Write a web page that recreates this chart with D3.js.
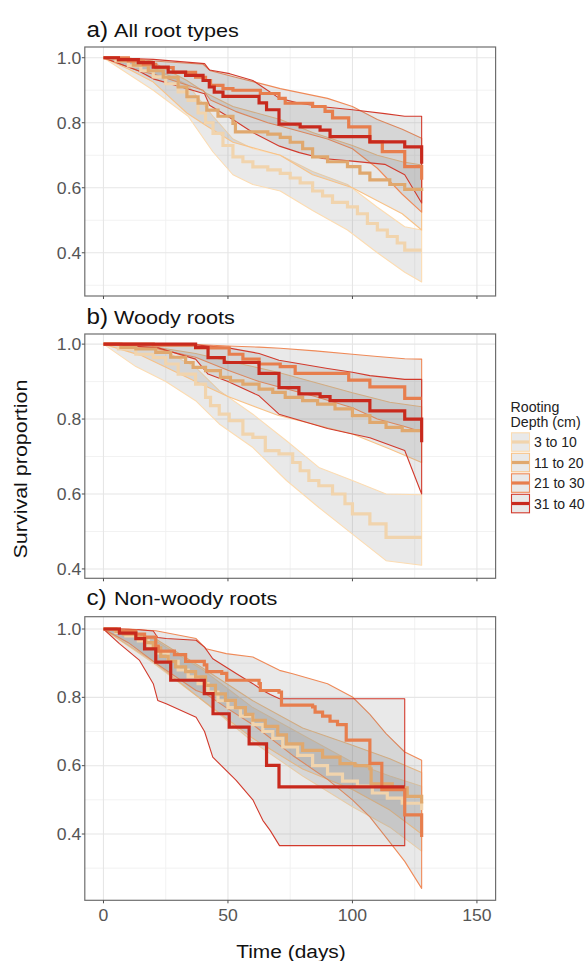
<!DOCTYPE html>
<html>
<head>
<meta charset="utf-8">
<script src="https://cdn.jsdelivr.net/npm/d3@7"></script>
<style>
  body { margin: 0; background: #fff; }
  svg { display: block; font-family: "Liberation Sans", Arial, sans-serif; }
</style>
</head>
<body>
<svg id="chart" width="587" height="961"></svg>
<script>
// ---- data ----------------------------------------------------------------
const groups = ["3 to 10", "11 to 20", "21 to 30", "31 to 40"];
const panelTags = ["a)", "b)", "c)"];
const panelTitles = ["All root types", "Woody roots", "Non-woody roots"];
const xTicks = [0, 50, 100, 150];
const yTicks = [0.4, 0.6, 0.8, 1.0];

// survival steps: [day, proportion]; ribbons: [day, lower, upper]
const a_s1 = [[0,1],[5,0.99],[10,0.975],[15,0.96],[20,0.941],[25,0.92],[30,0.895],[34,0.869],[38,0.83],[41,0.8],[44,0.767],[48,0.73],[52,0.695],[56,0.68],[60,0.664],[66,0.655],[71,0.644],[75,0.63],[79,0.615],[84,0.59],[88,0.575],[92,0.555],[98,0.541],[102,0.52],[106,0.49],[110,0.47],[114,0.45],[118,0.43],[121,0.408],[127.8,0.408]];
const a_c1 = [[0,1,1],[10,0.95,0.995],[20,0.9,0.97],[34,0.82,0.915],[44,0.71,0.82],[52,0.64,0.75],[60,0.61,0.72],[71,0.59,0.7],[84,0.53,0.65],[98,0.47,0.61],[110,0.4,0.54],[121,0.34,0.48],[127.8,0.31,0.47]];
const a_s2 = [[0,1],[6,0.99],[12,0.977],[18,0.96],[24,0.94],[30,0.91],[33.5,0.88],[38,0.86],[41.5,0.839],[46,0.82],[52,0.798],[53,0.772],[66,0.765],[71,0.755],[75,0.74],[80,0.72],[84,0.695],[90,0.68],[98,0.665],[103,0.645],[107,0.624],[115,0.61],[121,0.595],[127.8,0.59]];
const a_c2 = [[0,1,1],[10,0.965,1],[20,0.925,0.985],[33.5,0.83,0.93],[41.5,0.79,0.89],[52,0.74,0.85],[71,0.7,0.81],[84,0.64,0.77],[100,0.6,0.73],[110,0.56,0.7],[120,0.52,0.68],[127.8,0.47,0.67]];
const a_s3 = [[0,1],[10,0.99],[16,0.98],[21,0.97],[28,0.955],[37,0.94],[41,0.93],[43,0.915],[48,0.905],[52,0.9],[63,0.89],[70.5,0.875],[73,0.86],[84,0.85],[89,0.835],[92,0.815],[98.5,0.787],[107,0.741],[112,0.711],[121,0.665],[127.8,0.625]];
const a_c3 = [[0,1,1],[14,0.96,0.995],[20,0.95,0.99],[40,0.9,0.98],[43,0.87,0.96],[53,0.835,0.94],[66,0.8,0.915],[71,0.79,0.905],[90,0.75,0.875],[100,0.72,0.85],[110,0.66,0.81],[120,0.58,0.78],[127.8,0.525,0.752]];
const a_s4 = [[0,1],[6,0.994],[14,0.985],[20,0.971],[26,0.956],[33,0.946],[40,0.93],[42.5,0.91],[44.5,0.894],[48,0.881],[62.5,0.861],[65.5,0.84],[70.5,0.796],[79,0.787],[87,0.777],[91,0.757],[107,0.741],[121,0.726],[127.8,0.674]];
const a_c4 = [[0,1,1],[14,0.96,0.997],[20,0.935,0.995],[40.6,0.889,0.982],[42.6,0.854,0.962],[50.7,0.816,0.951],[60,0.77,0.93],[70.7,0.728,0.875],[78.7,0.708,0.86],[88,0.69,0.849],[100,0.682,0.84],[113,0.672,0.828],[121,0.64,0.82],[127.8,0.553,0.82]];

const b_s1 = [[0,1],[6,0.987],[13,0.973],[20,0.964],[25,0.947],[30,0.92],[37,0.893],[41,0.858],[43,0.836],[46.5,0.813],[50.5,0.796],[56,0.76],[60,0.751],[65,0.716],[70.5,0.707],[76,0.684],[79,0.662],[82.5,0.636],[86.5,0.622],[92,0.6],[97,0.574],[100,0.547],[107,0.52],[113.5,0.484],[127.8,0.484]];
const b_c1 = [[0,1,1],[13,0.94,0.995],[25,0.9,0.98],[37,0.849,0.938],[46.5,0.787,0.876],[60,0.724,0.813],[73.5,0.636,0.742],[86.5,0.564,0.671],[100,0.493,0.636],[113.5,0.422,0.6],[127.8,0.41,0.598]];
const b_s2 = [[0,1],[7,0.991],[13,0.987],[21,0.978],[27,0.965],[33,0.951],[36,0.938],[41,0.929],[47,0.911],[51,0.902],[56,0.893],[62.5,0.88],[68,0.871],[73,0.858],[80,0.849],[86,0.84],[93,0.827],[100,0.809],[107,0.791],[113.5,0.778],[120,0.769],[127.8,0.769]];
const b_c2 = [[0,1,1],[15,0.97,0.998],[37,0.9,0.975],[50,0.86,0.955],[70,0.81,0.925],[100,0.76,0.87],[115,0.72,0.845],[127.8,0.684,0.833]];
const b_s3 = [[0,1],[20,0.997],[37,0.99],[50.5,0.973],[56,0.96],[62.5,0.947],[71,0.94],[77,0.922],[98.5,0.904],[107,0.886],[121,0.855],[127.8,0.855]];
const b_c3 = [[0,1,1],[20,0.99,1],[37,0.965,0.999],[50,0.93,0.995],[62.5,0.9,0.992],[71,0.885,0.989],[85,0.86,0.982],[100,0.83,0.973],[110,0.8,0.967],[121,0.78,0.961],[127.8,0.766,0.96]];
const b_s4 = [[0,1],[37,0.991],[42,0.964],[48.5,0.951],[62.5,0.922],[70.5,0.884],[78.5,0.867],[87,0.86],[91,0.849],[107,0.822],[121,0.8],[127.8,0.738]];
const b_c4 = [[0,1,1],[22,0.99,1],[37,0.96,0.998],[42,0.92,0.995],[50,0.9,0.99],[62.5,0.862,0.975],[70.5,0.813,0.957],[90,0.775,0.935],[100,0.76,0.925],[107,0.75,0.916],[121,0.716,0.906],[127.8,0.6,0.906]];

const c_s1 = [[0,1],[5,0.99],[9,0.98],[14,0.965],[18,0.95],[22,0.93],[26,0.905],[30,0.88],[34,0.86],[38,0.84],[42,0.815],[46,0.79],[50,0.77],[55,0.745],[60,0.72],[64,0.7],[68,0.68],[72,0.655],[78,0.63],[84,0.6],[90,0.575],[96,0.555],[102,0.54],[108,0.52],[114,0.505],[120,0.49],[127.8,0.47]];
const c_c1 = [[0,1,1],[20,0.9,0.97],[40,0.79,0.88],[60,0.67,0.77],[80,0.57,0.69],[100,0.48,0.61],[115,0.42,0.57],[127.8,0.35,0.54]];
const c_s2 = [[0,1],[5,0.993],[8,0.985],[13,0.975],[17,0.96],[20,0.945],[23,0.92],[26,0.905],[29,0.889],[33,0.875],[37,0.86],[41,0.835],[45,0.81],[49,0.791],[53,0.77],[57,0.75],[60,0.733],[65,0.715],[70,0.69],[73.5,0.664],[80,0.645],[88,0.625],[95,0.606],[101,0.6],[107,0.591],[107.5,0.547],[116,0.535],[122,0.51],[127.8,0.489]];
const c_c2 = [[0,1,1],[20,0.905,0.975],[40,0.79,0.885],[60,0.68,0.79],[80,0.59,0.71],[100,0.53,0.66],[115,0.47,0.62],[127.8,0.4,0.58]];
const c_s3 = [[0,1],[6.4,0.994],[13,0.985],[16.5,0.976],[21,0.95],[22,0.935],[28.5,0.925],[33,0.905],[40.5,0.895],[41.5,0.875],[47.5,0.87],[49.5,0.85],[62.5,0.84],[63,0.82],[70.5,0.815],[71.5,0.777],[84,0.772],[85,0.757],[88,0.745],[91,0.73],[94,0.72],[97.5,0.675],[107,0.607],[111.8,0.53],[121,0.456],[127.8,0.391]];
const c_c3 = [[0,1,1],[10,0.96,1],[21,0.9,0.995],[37.2,0.82,0.972],[41.2,0.81,0.942],[49.3,0.77,0.928],[60,0.72,0.918],[70.7,0.66,0.879],[76,0.63,0.869],[90,0.56,0.84],[100,0.5,0.801],[107,0.45,0.75],[113.5,0.39,0.694],[121,0.32,0.64],[127.8,0.241,0.616]];
const c_s4 = [[0,1],[6.4,0.988],[13,0.972],[16.5,0.942],[21,0.903],[27,0.85],[40.5,0.811],[44,0.752],[50.5,0.713],[58.5,0.664],[65.5,0.601],[70.5,0.538],[121,0.538]];
const c_c4 = [[0,1,1],[6.4,0.957,1],[14.5,0.908,0.998],[20,0.84,0.994],[21.8,0.791,0.975],[25.2,0.781,0.972],[37.2,0.742,0.967],[40.6,0.7,0.947],[43.9,0.625,0.913],[53.3,0.557,0.87],[60,0.5,0.84],[64,0.44,0.82],[67,0.41,0.808],[70.7,0.366,0.796],[121,0.366,0.796]];

// ---- layout / style --------------------------------------------------------
const lineCols = ["#f1d4ad", "#e0a86e", "#e77e4d", "#c8291d"];
const edgeCols = ["#fcdcb2", "#f8c287", "#ef8a58", "#d23a2c"];

const panels = [
  { surv: [a_s1, a_s2, a_s3, a_s4], ci: [a_c1, a_c2, a_c3, a_c4], top: 47,  bottom: 296,   yDom: [0.267, 1.033], tagY: 36.5 },
  { surv: [b_s1, b_s2, b_s3, b_s4], ci: [b_c1, b_c2, b_c3, b_c4], top: 334, bottom: 578.3, yDom: [0.375, 1.027], tagY: 323.5 },
  { surv: [c_s1, c_s2, c_s3, c_s4], ci: [c_c1, c_c2, c_c3, c_c4], top: 616.7, bottom: 900.3, yDom: [0.206, 1.036], tagY: 605 }
];

const svg = d3.select('#chart');
const x = d3.scaleLinear().domain([-7.5, 157.5]).range([84.8, 495.6]);

// text with a little horizontal stretch (the source figure is a bit wide)
function txt(parent, s, px, py, size, sx, anchor, fill, rot) {
  return parent.append('text')
    .attr('transform', `translate(${px},${py})` + (rot ? ` rotate(${rot})` : '') + ` scale(${sx},1)`)
    .attr('text-anchor', anchor || 'start')
    .attr('font-size', size)
    .attr('fill', fill || '#000')
    .text(s);
}

panels.forEach((p, i) => {
  const y = d3.scaleLinear().domain(p.yDom).range([p.bottom, p.top]);
  const g = svg.append('g');
  const [x0, x1] = x.range();

  // grid
  const yMinor = d3.range(0.3, 1.01, 0.2).filter(v => v > p.yDom[0] && v < p.yDom[1]);
  g.selectAll('.ym').data(yMinor).enter().append('line')
    .attr('x1', x0).attr('x2', x1).attr('y1', d => y(d)).attr('y2', d => y(d))
    .attr('stroke', '#f0f0f0').attr('stroke-width', 0.9);
  g.selectAll('.xm').data([25, 75, 125]).enter().append('line')
    .attr('y1', p.top).attr('y2', p.bottom).attr('x1', d => x(d)).attr('x2', d => x(d))
    .attr('stroke', '#f0f0f0').attr('stroke-width', 0.9);
  g.selectAll('.yg').data(yTicks).enter().append('line')
    .attr('x1', x0).attr('x2', x1).attr('y1', d => y(d)).attr('y2', d => y(d))
    .attr('stroke', '#e6e6e6').attr('stroke-width', 1.1);
  g.selectAll('.xg').data(xTicks).enter().append('line')
    .attr('y1', p.top).attr('y2', p.bottom).attr('x1', d => x(d)).attr('x2', d => x(d))
    .attr('stroke', '#e6e6e6').attr('stroke-width', 1.1);

  // confidence ribbons
  const area = d3.area().x(d => x(d[0])).y0(d => y(d[1])).y1(d => y(d[2]));
  p.ci.forEach((c, k) => {
    g.append('path').datum(c).attr('d', area)
      .attr('fill', '#7a7a7a').attr('fill-opacity', 0.17)
      .attr('stroke', edgeCols[k]).attr('stroke-width', 1.1).attr('stroke-linejoin', 'round');
  });

  // KM step curves
  const step = d3.line().x(d => x(d[0])).y(d => y(d[1])).curve(d3.curveStepAfter);
  p.surv.forEach((s, k) => {
    g.append('path').datum(s).attr('d', step)
      .attr('fill', 'none').attr('stroke', lineCols[k]).attr('stroke-width', 3.2);
  });

  // panel border
  g.append('rect').attr('x', x0).attr('y', p.top).attr('width', x1 - x0).attr('height', p.bottom - p.top)
    .attr('fill', 'none').attr('stroke', '#6e6e6e').attr('stroke-width', 1.2);

  // y axis ticks + labels
  yTicks.forEach(v => {
    g.append('line').attr('x1', x0 - 3).attr('x2', x0).attr('y1', y(v)).attr('y2', y(v))
      .attr('stroke', '#4d4d4d').attr('stroke-width', 1);
    txt(g, d3.format('.1f')(v), x0 - 3.5, y(v) + 5.8, 16, 1.1, 'end', '#555');
  });
  // x axis ticks (labels on the last panel only)
  xTicks.forEach(v => {
    g.append('line').attr('x1', x(v)).attr('x2', x(v)).attr('y1', p.bottom).attr('y2', p.bottom + 3)
      .attr('stroke', '#4d4d4d').attr('stroke-width', 1);
    if (i === panels.length - 1) txt(g, String(v), x(v), p.bottom + 21, 16, 1.1, 'middle', '#555');
  });

  // panel title
  txt(g, panelTags[i], 86.5, p.tagY, 22, 1.1, 'start', '#111');
  txt(g, panelTitles[i], 114, p.tagY, 18, 1.2, 'start', '#111');
});

// axis titles
txt(svg, 'Time (days)', 291, 957.5, 19, 1.1, 'middle', '#111');
txt(svg, 'Survival proportion', 26.5, 469, 19, 1.13, 'middle', '#111', -90);

// legend
const lg = svg.append('g');
txt(lg, 'Rooting', 510.5, 411.5, 14.2, 1, 'start', '#222');
txt(lg, 'Depth (cm)', 510.5, 427, 14.2, 1, 'start', '#222');
groups.forEach((name, k) => {
  const ky = 432 + k * 20.5;
  lg.append('rect').attr('x', 511.5).attr('y', ky + 0.8).attr('width', 18).attr('height', 18.5)
    .attr('fill', '#7a7a7a').attr('fill-opacity', 0.17)
    .attr('stroke', edgeCols[k]).attr('stroke-width', 1.1);
  lg.append('line').attr('x1', 512).attr('x2', 529).attr('y1', ky + 10).attr('y2', ky + 10)
    .attr('stroke', lineCols[k]).attr('stroke-width', 3.2);
  txt(lg, name, 534, ky + 15, 14, 1, 'start', '#222');
});
</script>
</body>
</html>
